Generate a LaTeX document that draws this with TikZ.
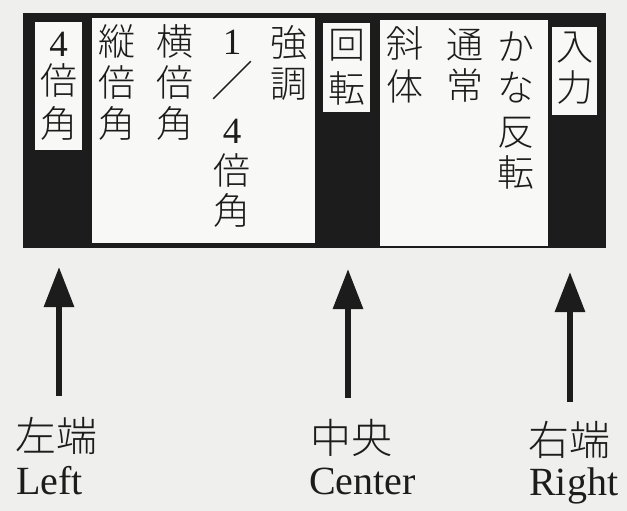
\documentclass[tikz,border=0pt]{standalone}
\usepackage{fontspec}
\setmainfont{Liberation Serif}
\newfontfamily\jpfont{Noto Sans CJK JP Light}
\usetikzlibrary{arrows.meta}
\definecolor{bgc}{HTML}{EFEFED}
\definecolor{paperc}{HTML}{F8F8F6}
\definecolor{inkc}{HTML}{1C1C1C}
\tikzset{
  jpc/.style={font=\jpfont\fontsize{37}{37}\selectfont, inner sep=0pt, anchor=center, text=inkc},
  dgc/.style={font=\fontsize{37}{37}\selectfont, inner sep=0pt, anchor=center, text=inkc},
  jpl/.style={font=\jpfont\fontsize{41}{41}\selectfont, inner sep=0pt, anchor=west, text=inkc},
  enl/.style={font=\fontsize{40}{40}\selectfont, inner sep=0pt, anchor=base west, text=inkc},
  panel/.style={fill=paperc, draw=none},
  upar/.style={draw=inkc, line width=6pt, -{Triangle[length=40pt,width=29pt]}}
}
\begin{document}
\begin{tikzpicture}[x=1pt,y=-1pt]
\useasboundingbox (0,0) rectangle (627,511);
\fill[bgc] (0,0) rectangle (627,511);
% frame
\fill[inkc] (23,13) rectangle (606,248);
\fill[panel] (92,18) rectangle (315,243);
\fill[panel] (380,20) rectangle (548,246);
\fill[panel] (35,22) rectangle (82,150);
\fill[panel] (323,23) rectangle (370,112);
\fill[panel] (552,27) rectangle (597,115);
% columns
\node[dgc] (yon1) at (58.5,44) {4};
\foreach \c/\y [count=\i from 2] in {倍/80,角/123}
  \node[jpc] (yon\i) at (58.5,\y) {\c};
\foreach \c/\y [count=\i] in {縦/41,倍/82,角/123}
  \node[jpc] (tate\i) at (117,\y) {\c};
\foreach \c/\y [count=\i] in {横/41,倍/82,角/123}
  \node[jpc] (yoko\i) at (175,\y) {\c};
\node[dgc] (quar1) at (232,42) {1};
\node[jpc, font=\jpfont\fontsize{42}{42}\selectfont] (quar2) at (232,81) {／};
\node[dgc] (quar3) at (232,131) {4};
\foreach \c/\y [count=\i from 4] in {倍/170,角/210}
  \node[jpc] (quar\i) at (232,\y) {\c};
\foreach \c/\y [count=\i] in {強/43,調/84}
  \node[jpc] (kyo\i) at (289,\y) {\c};
\foreach \c/\y [count=\i] in {回/45,転/88}
  \node[jpc] (kai\i) at (347,\y) {\c};
\foreach \c/\y [count=\i] in {斜/43,体/86}
  \node[jpc] (sha\i) at (405,\y) {\c};
\foreach \c/\y [count=\i] in {通/45,常/85}
  \node[jpc] (tsu\i) at (465,\y) {\c};
\foreach \c/\y [count=\i] in {か/46,な/88,反/133,転/172}
  \node[jpc] (kana\i) at (516,\y) {\c};
\foreach \c/\y [count=\i] in {入/48,力/88}
  \node[jpc] (nyu\i) at (575,\y) {\c};
% labels
\node[jpl] (lj) at (15,436) {左端};
\node[enl] (le) at (16,494) {Left};
\node[jpl] (cj) at (310,438) {中央};
\node[enl] (ce) at (309,494) {Center};
\node[jpl] (rj) at (528,440) {右端};
\node[enl] (re) at (529,495) {Right};
% arrows
\coordinate (lt) at (59,396);
\coordinate (lh) at (59,267);
\coordinate (ct) at (348,398);
\coordinate (ch) at (348,269);
\coordinate (rt) at (570,402);
\coordinate (rh) at (570,272);
\draw[upar] (lt) -- (lh);
\draw[upar] (ct) -- (ch);
\draw[upar] (rt) -- (rh);
\end{tikzpicture}
\end{document}
